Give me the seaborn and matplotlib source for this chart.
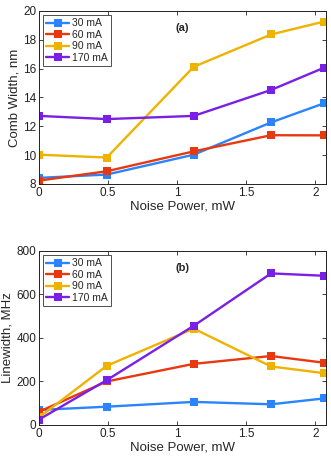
import numpy as np
import pandas as pd
import matplotlib
matplotlib.use("Agg")
import matplotlib.pyplot as plt
import seaborn as sns

# Noise power values (x axis), shared by both panels
noise_power = [0, 0.49, 1.12, 1.68, 2.065]
currents = ["30 mA", "60 mA", "90 mA", "170 mA"]

# Panel (a): comb width, nm
comb_30 = [8.42, 8.65, 10.03, 12.27, 13.6]
comb_60 = [8.23, 8.88, 10.26, 11.38, 11.37]
comb_90 = [10.03, 9.83, 16.13, 18.37, 19.27]
comb_170 = [12.72, 12.5, 12.72, 14.52, 16.07]

# Panel (b): linewidth, MHz
lw_30 = [69, 84, 106, 95, 122]
lw_60 = [61, 200, 281, 317, 286]
lw_90 = [35, 272, 443, 269, 238]
lw_170 = [25, 206, 456, 697, 686]

colors = ["#2a84ff", "#e8380f", "#f0b200", "#7a1fe6"]

def long_df(series):
    rows = []
    for name, vals in zip(currents, series):
        for x, y in zip(noise_power, vals):
            rows.append({"Noise": x, "Value": y, "Current": name})
    return pd.DataFrame(rows)

df_a = long_df([comb_30, comb_60, comb_90, comb_170])
df_b = long_df([lw_30, lw_60, lw_90, lw_170])

sns.set_style("ticks")
plt.rcParams["font.family"] = ["Liberation Sans", "DejaVu Sans"]
plt.rcParams["font.size"] = 8

fig = plt.figure(figsize=(3.31, 4.68), dpi=100)
ax_a = fig.add_axes([0.118, 0.607, 0.867, 0.3695])
ax_b = fig.add_axes([0.118, 0.092, 0.867, 0.3717])

panels = [
    (ax_a, df_a, (8, 20), [8, 10, 12, 14, 16, 18, 20], "Comb Width, nm", "(a)"),
    (ax_b, df_b, (0, 800), [0, 200, 400, 600, 800], "Linewidth, MHz", "(b)"),
]

for ax, df, ylim, yticks, ylabel, tag in panels:
    sns.lineplot(data=df, x="Noise", y="Value", hue="Current", hue_order=currents,
                 palette=colors, marker="s", markersize=5.5, markeredgewidth=0,
                 linewidth=1.7, ax=ax)
    ax.set_xlim(0, 2.078)
    ax.set_ylim(*ylim)
    ax.set_xticks([0, 0.5, 1, 1.5, 2])
    ax.set_xticklabels(["0", "0.5", "1", "1.5", "2"])
    ax.set_yticks(yticks)
    ax.set_xlabel("Noise Power, mW", fontsize=9.5, labelpad=1)
    ax.set_ylabel(ylabel, fontsize=9.5, labelpad=2)
    ax.tick_params(direction="in", top=True, right=True, length=3, width=0.6,
                   labelsize=8.5, pad=2, colors="#222222")
    for s in ax.spines.values():
        s.set_visible(True)
        s.set_linewidth(0.7)
        s.set_color("#222222")
    ax.text(0.5, 0.9, tag, transform=ax.transAxes, fontsize=8, fontweight="bold",
            ha="center", va="center")
    leg = ax.legend(loc="upper left", fontsize=7.5, frameon=True, fancybox=False,
                    borderpad=0.3, labelspacing=0.15, handlelength=2.2,
                    handletextpad=0.3, borderaxespad=0.4)
    leg.get_frame().set_edgecolor("#222222")
    leg.get_frame().set_linewidth(0.7)

fig.savefig("out.png", dpi=100)
